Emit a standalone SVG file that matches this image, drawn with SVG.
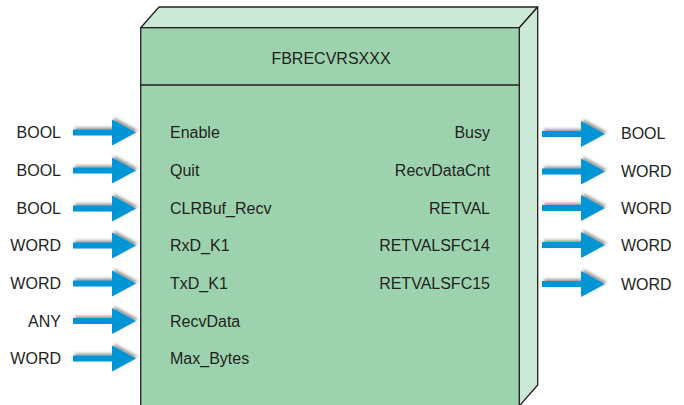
<svg xmlns="http://www.w3.org/2000/svg" width="684" height="405" viewBox="0 0 684 405">
<defs>
<style>
text{font-family:"Liberation Sans",Arial,sans-serif;font-size:16px;fill:#231f20}
.r{text-anchor:end}
.m{text-anchor:middle}
.front{fill:#9cd3ae;stroke:#231f20;stroke-width:1.3}
.light{fill:#cce8d7;stroke:#231f20;stroke-width:1.3;stroke-linejoin:round}
.arr{fill:#0096d6;filter:url(#sh)}
</style>
<filter id="sh" x="-30%" y="-60%" width="160%" height="220%">
<feDropShadow dx="2" dy="-2" stdDeviation="1.5" flood-color="#555" flood-opacity="0.6"/>
</filter>
<g id="arrow">
<rect x="0" y="-3" width="41" height="6"/>
<polygon points="39,-13 63,0 39,13"/>
</g>
</defs>
<g id="block">
<polygon class="light" points="140.7,27.7 159,7 537.7,7 519.3,27.7"/>
<polygon class="light" points="519.3,27.7 537.7,7 537.7,385 519.3,406"/>
<rect class="front" x="140.7" y="27.7" width="378.6" height="380"/>
<line x1="140.7" y1="85" x2="519.3" y2="85" stroke="#231f20" stroke-width="1.3"/>
<text class="m" x="331" y="64">FBRECVRSXXX</text>
</g>
<g id="inputs">
<text class="r" x="61" y="138">BOOL</text>
<text class="r" x="61" y="176">BOOL</text>
<text class="r" x="61" y="214">BOOL</text>
<text class="r" x="61" y="251">WORD</text>
<text class="r" x="61" y="289">WORD</text>
<text class="r" x="61" y="327">ANY</text>
<text class="r" x="61" y="364">WORD</text>
<text x="170" y="138">Enable</text>
<text x="170" y="176">Quit</text>
<text x="170" y="214">CLRBuf_Recv</text>
<text x="170" y="251">RxD_K1</text>
<text x="170" y="289">TxD_K1</text>
<text x="170" y="327">RecvData</text>
<text x="170" y="364">Max_Bytes</text>
</g>
<g id="outputs">
<text class="r" x="490" y="138">Busy</text>
<text class="r" x="490" y="176">RecvDataCnt</text>
<text class="r" x="490" y="214">RETVAL</text>
<text class="r" x="490" y="251">RETVALSFC14</text>
<text class="r" x="490" y="289">RETVALSFC15</text>
<text x="621" y="139">BOOL</text>
<text x="621" y="177">WORD</text>
<text x="621" y="214">WORD</text>
<text x="621" y="251">WORD</text>
<text x="621" y="290">WORD</text>
</g>
<g id="connectors" class="arr">
<use href="#arrow" x="73" y="132.5"/>
<use href="#arrow" x="73" y="170.5"/>
<use href="#arrow" x="73" y="208.5"/>
<use href="#arrow" x="73" y="245.5"/>
<use href="#arrow" x="73" y="283.5"/>
<use href="#arrow" x="73" y="321"/>
<use href="#arrow" x="73" y="358.5"/>
<use href="#arrow" x="542" y="134"/>
<use href="#arrow" x="542" y="171.5"/>
<use href="#arrow" x="542" y="208"/>
<use href="#arrow" x="542" y="245"/>
<use href="#arrow" x="542" y="284"/>
</g>
</svg>
